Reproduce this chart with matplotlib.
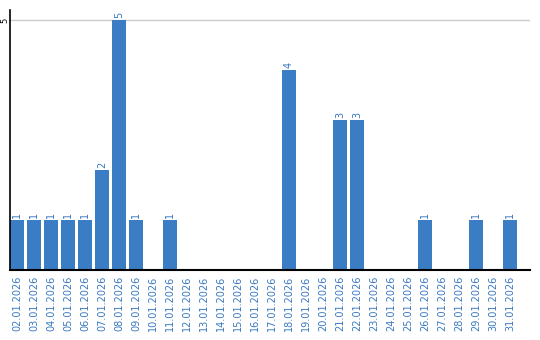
import matplotlib
matplotlib.use('Agg')
import matplotlib.pyplot as plt

dates = ['02.01.2026', '03.01.2026', '04.01.2026', '05.01.2026', '06.01.2026',
         '07.01.2026', '08.01.2026', '09.01.2026', '10.01.2026', '11.01.2026',
         '12.01.2026', '13.01.2026', '14.01.2026', '15.01.2026', '16.01.2026',
         '17.01.2026', '18.01.2026', '19.01.2026', '20.01.2026', '21.01.2026',
         '22.01.2026', '23.01.2026', '24.01.2026', '25.01.2026', '26.01.2026',
         '27.01.2026', '28.01.2026', '29.01.2026', '30.01.2026', '31.01.2026']
counts = [1, 1, 1, 1, 1, 2, 5, 1, 0, 1,
          0, 0, 0, 0, 0, 0, 4, 0, 0, 3,
          3, 0, 0, 0, 1, 0, 0, 1, 0, 1]

bar_color = '#3b7dc4'
label_color = '#3a78c0'

fig = plt.figure(figsize=(5.4, 3.4), dpi=100)
ax = fig.add_axes([10/540, 70/340, 520/540, 260/340])

xs = list(range(len(dates)))
ax.bar(xs, counts, width=0.82, color=bar_color, zorder=2)

for x, c in zip(xs, counts):
    if c > 0:
        ax.text(x, c + 0.04, str(c), rotation=90, ha='center', va='bottom',
                fontsize=7, color=label_color)

ax.set_xlim(-0.41, 30.18)
ax.set_ylim(0, 5.2)
ax.set_yticks([5])
ax.set_yticklabels(['5'], rotation=90, va='center', ha='center', fontsize=6)
ax.yaxis.grid(True, color='#cccccc', linewidth=1, zorder=0)
ax.tick_params(axis='y', length=0, pad=4)

ax.set_xticks(xs)
ax.set_xticklabels(dates, rotation=90, fontsize=7, color=label_color)
ax.tick_params(axis='x', length=0, pad=4)

for side in ['top', 'right']:
    ax.spines[side].set_visible(False)
ax.spines['left'].set_linewidth(1.2)
ax.spines['bottom'].set_linewidth(1.5)

fig.savefig('out.png', dpi=100)
